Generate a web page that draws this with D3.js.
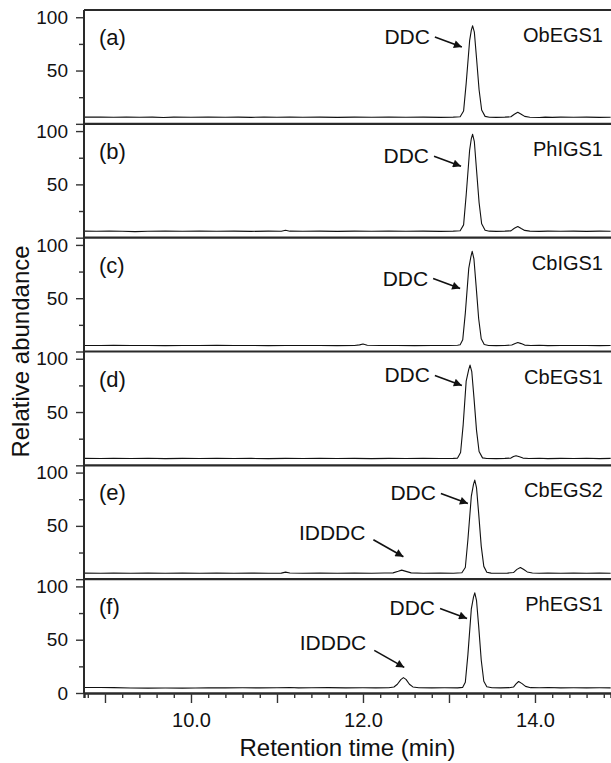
<!DOCTYPE html>
<html>
<head>
<meta charset="utf-8">
<script src="https://cdn.jsdelivr.net/npm/d3@7"></script>
<style>
body { margin: 0; background: #fff; }
text { font-family: "Liberation Sans", Arial, sans-serif; fill: #111; }
</style>
</head>
<body>
<div class="chart"></div>
<script>
var panelLetters = ["(a)", "(b)", "(c)", "(d)", "(e)", "(f)"];
var sampleNames = ["ObEGS1", "PhIGS1", "CbIGS1", "CbEGS1", "CbEGS2", "PhEGS1"];

var yTicks = [0, 25, 50, 75, 100];
var yLabelled = [50, 100];
var xLabelled = [10, 12, 14];
var xTickLabels = ["10.0", "12.0", "14.0"];

// retention time (min), relative abundance
var traceA = [[8.76,6.3],[8.95,6.3],[9.1,6.2],[9.25,6.4],[9.4,6.2],[9.55,6.3],[9.68,6.0],[9.8,6.3],[10.0,6.2],[10.2,6.4],[10.4,6.2],[10.55,6.3],[10.7,6.1],[10.85,6.3],[11.0,6.2],[11.15,6.4],[11.3,6.2],[11.5,6.3],[11.7,6.1],[11.9,6.3],[12.1,6.2],[12.3,6.4],[12.5,6.2],[12.7,6.3],[12.9,6.1],[13.05,6.3],[13.13,6.6],
  [13.17,12],[13.2,38],[13.24,78],[13.26,88],[13.275,92],[13.295,86],[13.32,62],[13.35,32],[13.38,13],[13.42,7],[13.47,6.2],
  [13.55,6.1],[13.65,6.3],[13.72,6.6],[13.76,9],[13.8,10.8],[13.84,9],[13.88,7],[13.94,6.2],[14.05,6.0],[14.12,6.3],[14.2,6.1],[14.3,6.3],[14.45,6.2],[14.6,6.3],[14.75,6.1],[14.88,6.2]];
var traceB = [[8.76,6.1],[8.9,6.0],[9.05,6.2],[9.2,6.0],[9.35,5.7],[9.5,6.0],[9.7,6.1],[9.9,6.0],[10.1,6.2],[10.3,6.0],[10.5,6.1],[10.7,5.9],[10.9,6.1],[11.05,6.0],[11.1,7.0],[11.15,6.1],[11.3,6.0],[11.5,6.1],[11.7,5.9],[11.9,6.1],[12.1,6.0],[12.3,6.2],[12.5,6.0],[12.7,6.1],[12.9,5.9],[13.05,6.1],[13.13,6.5],
  [13.17,12],[13.2,40],[13.24,82],[13.26,93],[13.275,97],[13.295,90],[13.32,64],[13.35,33],[13.38,13],[13.42,7],[13.47,6.1],
  [13.55,5.9],[13.65,6.1],[13.72,6.4],[13.76,8.8],[13.8,10.5],[13.84,8.6],[13.88,6.8],[13.94,6.1],[14.05,5.9],[14.15,6.1],[14.3,6.0],[14.45,6.1],[14.6,5.9],[14.75,6.1],[14.88,6.0]];
var traceC = [[8.76,5.7],[8.95,5.6],[9.1,5.8],[9.3,5.6],[9.5,5.7],[9.7,5.5],[9.9,5.7],[10.1,5.6],[10.3,5.8],[10.5,5.6],[10.7,5.7],[10.9,5.5],[11.1,5.7],[11.3,5.6],[11.5,5.7],[11.7,5.5],[11.9,5.6],[11.96,6.2],[12.0,7.1],[12.05,5.8],[12.2,5.6],[12.4,5.7],[12.6,5.5],[12.8,5.7],[13.0,5.6],[13.1,5.8],[13.13,6.3],
  [13.16,11],[13.19,36],[13.23,78],[13.255,89],[13.27,94],[13.29,87],[13.315,62],[13.345,31],[13.375,12],[13.41,6.5],[13.46,5.7],
  [13.55,5.5],[13.65,5.7],[13.73,6.1],[13.77,7.6],[13.8,8.5],[13.84,7.4],[13.88,6.0],[13.95,5.6],[14.05,5.8],[14.15,5.5],[14.3,5.7],[14.45,5.6],[14.6,5.7],[14.75,5.5],[14.88,5.6]];
var traceD = [[8.76,6.5],[8.95,6.4],[9.1,6.6],[9.3,6.4],[9.5,6.6],[9.7,6.3],[9.9,6.5],[10.1,6.4],[10.3,6.6],[10.5,6.4],[10.7,6.5],[10.9,6.3],[11.1,6.5],[11.3,6.4],[11.5,6.6],[11.7,6.4],[11.9,6.5],[12.1,6.3],[12.3,6.5],[12.5,6.4],[12.7,6.6],[12.9,6.4],[13.05,6.5],[13.1,6.8],
  [13.135,12],[13.165,38],[13.2,79],[13.23,90],[13.245,94],[13.265,88],[13.29,64],[13.32,33],[13.35,13],[13.39,7],[13.44,6.4],
  [13.55,6.3],[13.65,6.5],[13.72,6.8],[13.75,8.2],[13.78,9.0],[13.82,8.0],[13.86,6.8],[13.93,6.4],[14.05,6.6],[14.15,6.3],[14.3,6.5],[14.45,6.4],[14.6,6.6],[14.75,6.3],[14.88,6.5]];
var traceE = [[8.76,5.7],[8.95,5.6],[9.1,5.8],[9.3,5.6],[9.5,5.7],[9.7,5.5],[9.9,5.7],[10.1,5.6],[10.3,5.8],[10.5,5.6],[10.7,5.7],[10.9,5.5],[11.05,5.7],[11.1,6.6],[11.15,5.8],[11.3,5.6],[11.5,5.7],[11.7,5.5],[11.9,5.7],[12.1,5.6],[12.25,5.8],[12.35,5.9],[12.41,7.4],[12.45,8.5],[12.5,7.3],[12.56,5.9],[12.7,5.6],[12.9,5.7],[13.05,5.6],[13.15,6.0],
  [13.19,11],[13.22,37],[13.26,78],[13.285,89],[13.3,93],[13.32,86],[13.345,62],[13.375,31],[13.405,12],[13.44,6.5],[13.49,5.7],
  [13.58,5.5],[13.68,5.7],[13.75,6.2],[13.79,9.2],[13.83,11.0],[13.87,9.0],[13.91,6.8],[13.97,5.8],[14.05,5.6],[14.15,5.8],[14.3,5.5],[14.45,5.7],[14.6,5.6],[14.75,5.8],[14.88,5.6]];
var traceF = [[8.76,5.1],[8.95,5.1],[9.1,5.0],[9.3,4.7],[9.5,4.6],[9.7,4.7],[9.9,4.6],[10.05,4.7],[10.2,4.9],[10.4,4.8],[10.6,4.9],[10.8,4.8],[11.0,4.9],[11.15,5.2],[11.25,4.8],[11.4,4.9],[11.6,5.0],[11.8,4.8],[12.0,4.9],[12.15,4.8],[12.3,4.9],[12.36,5.6],[12.4,8.2],[12.44,12.5],[12.47,14.4],[12.5,12.8],[12.54,8.2],[12.58,5.7],[12.65,4.9],[12.8,4.8],[12.95,4.9],[13.1,4.8],[13.16,5.3],
  [13.19,10],[13.22,36],[13.26,79],[13.285,90],[13.3,94],[13.32,87],[13.345,63],[13.375,31],[13.405,11],[13.44,5.8],[13.5,4.9],
  [13.6,4.8],[13.7,5.0],[13.75,5.6],[13.78,8.5],[13.81,10.8],[13.85,8.8],[13.89,6.2],[13.95,5.0],[14.05,4.9],[14.15,5.1],[14.3,4.8],[14.45,4.9],[14.6,4.8],[14.75,4.9],[14.88,4.8]];
var traces = [traceA, traceB, traceC, traceD, traceE, traceF];

// arrow tips in data units (panel index, label, time, abundance)
var annPanel = [0, 1, 2, 3, 4, 4, 5, 5];
var annLabel = ["DDC", "DDC", "DDC", "DDC", "DDC", "IDDDC", "DDC", "IDDDC"];
var annTime = [13.15, 13.14, 13.13, 13.15, 13.22, 12.47, 13.21, 12.48];
var annValue = [72, 67, 59, 75, 71, 21, 70, 24];

var svgWidth = 611;
var svgHeight = 763;
var margin = {top: 10, right: 0, bottom: 70, left: 84};
var width = svgWidth - margin.left - margin.right;
var height = svgHeight - margin.top - margin.bottom;
var panelH = height / traces.length;

var svg = d3.select(".chart")
  .append("svg")
  .attr("width", svgWidth)
  .attr("height", svgHeight);

svg.append("defs").append("marker")
  .attr("id", "arrow")
  .attr("viewBox", "0 0 10 10")
  .attr("refX", 10)
  .attr("refY", 5)
  .attr("markerUnits", "userSpaceOnUse")
  .attr("markerWidth", 12)
  .attr("markerHeight", 8)
  .attr("orient", "auto")
  .append("path")
  .attr("d", "M0,0L10,5L0,10Z")
  .attr("fill", "#111");

var chartGroup = svg.append("g")
  .attr("transform", `translate(${margin.left}, ${margin.top})`);

var xScale = d3.scaleLinear()
  .domain([8.756, 14.884])
  .range([0, width]);

var line = d3.line()
  .x(d => xScale(d[0]));

traces.forEach(function(trace, i) {
  var top = i * panelH;
  var yScale = d3.scaleLinear()
    .domain([0, 106.8])
    .range([top + panelH, top]);

  var yAxis = d3.axisLeft(yScale)
    .tickValues(yTicks)
    .tickSize(8)
    .tickPadding(8)
    .tickFormat(d => (yLabelled.includes(d) || (d === 0 && i === traces.length - 1)) ? d : "");

  var yg = chartGroup.append("g").call(yAxis);
  yg.select(".domain").remove();
  yg.selectAll(".tick line")
    .attr("stroke", "#333")
    .attr("stroke-width", 1.4)
    .attr("x2", d => (d % 50 === 0) ? -8 : -5);
  yg.selectAll(".tick text")
    .style("font-size", "19px")
    .attr("fill", "#111");

  // panel top border
  chartGroup.append("line")
    .attr("x1", 0).attr("x2", width)
    .attr("y1", top).attr("y2", top)
    .attr("stroke", "#2a2a2a")
    .attr("stroke-width", 2.2);

  chartGroup.append("path")
    .datum(trace)
    .attr("fill", "none")
    .attr("stroke", "#111")
    .attr("stroke-width", 1.1)
    .attr("stroke-linejoin", "round")
    .attr("d", line.y(d => yScale(d[1])));

  chartGroup.append("text")
    .attr("x", 15)
    .attr("y", top + 35)
    .style("font-size", "22px")
    .text(panelLetters[i]);

  chartGroup.append("text")
    .attr("x", width - 8)
    .attr("y", top + 32)
    .attr("text-anchor", "end")
    .style("font-size", "20px")
    .text(sampleNames[i]);

  annPanel.forEach(function(p, k) {
    if (p !== i) return;
    var tx = xScale(annTime[k]);
    var ty = yScale(annValue[k]);
    var big = annLabel[k] === "IDDDC";
    var sx = tx + (big ? -30 : -27);
    var sy = ty + (big ? -17 : -10);
    chartGroup.append("line")
      .attr("x1", sx).attr("y1", sy)
      .attr("x2", tx).attr("y2", ty)
      .attr("stroke", "#111")
      .attr("stroke-width", 1.6)
      .attr("marker-end", "url(#arrow)");
    chartGroup.append("text")
      .attr("x", tx + (big ? -38 : -32))
      .attr("y", ty + (big ? -17 : -3))
      .attr("text-anchor", "end")
      .style("font-size", "21px")
      .text(annLabel[k]);
  });
});

// left axis line
chartGroup.append("line")
  .attr("x1", 0).attr("x2", 0)
  .attr("y1", 0).attr("y2", height)
  .attr("stroke", "#2a2a2a")
  .attr("stroke-width", 2);

var xTicks = d3.range(8.8, 14.85, 0.2).map(d => Math.round(d * 10) / 10);
var xAxis = d3.axisBottom(xScale)
  .tickValues(xTicks)
  .tickSize(5)
  .tickFormat(d => {
    var j = xLabelled.indexOf(d);
    return j >= 0 ? xTickLabels[j] : "";
  });

var xg = chartGroup.append("g")
  .attr("transform", `translate(0, ${height})`)
  .call(xAxis);
xg.select(".domain")
  .attr("stroke", "#2a2a2a")
  .attr("stroke-width", 2.4);
xg.selectAll(".tick line")
  .attr("stroke", "#333")
  .attr("stroke-width", 1.4)
  .attr("y2", d => Number.isInteger(d) ? 10 : 5);
xg.selectAll(".tick text")
  .attr("y", 20)
  .style("font-size", "20px")
  .attr("fill", "#111");

// axis labels
chartGroup.append("text")
  .attr("transform", `translate(${29 - margin.left}, ${height / 2}) rotate(-90)`)
  .attr("text-anchor", "middle")
  .style("font-size", "24px")
  .text("Relative abundance");

chartGroup.append("text")
  .attr("x", width / 2)
  .attr("y", height + 63)
  .attr("text-anchor", "middle")
  .style("font-size", "24px")
  .text("Retention time (min)");
</script>
</body>
</html>
